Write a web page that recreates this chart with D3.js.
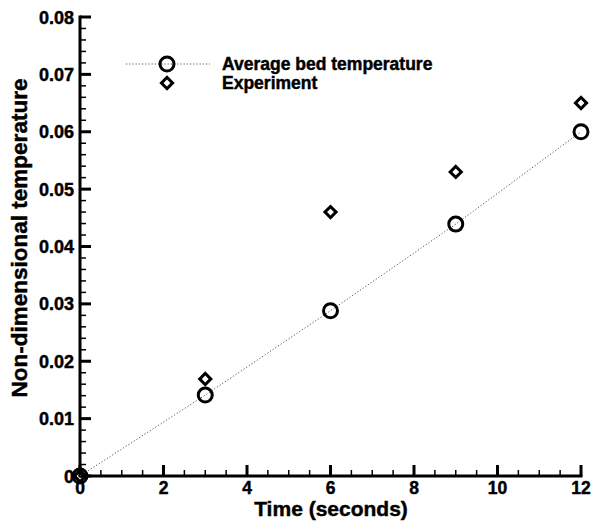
<!DOCTYPE html>
<html><head><meta charset="utf-8">
<script src="https://cdn.jsdelivr.net/npm/d3@7"></script>
<style>body{margin:0;background:#fff}svg{display:block}text{stroke:#000;stroke-width:0.45px}</style>
</head><body>
<script>
const times = [0, 3, 6, 9, 12];
const avgBed = [0, 0.0141, 0.0288, 0.0439, 0.0600];
const expTimes = [0, 3, 6, 9, 12];
const experiment = [0, 0.0169, 0.046, 0.053, 0.065];
const xTicks = [0, 2, 4, 6, 8, 10, 12];
const yTicks = [0, 0.01, 0.02, 0.03, 0.04, 0.05, 0.06, 0.07, 0.08];
const yTickLabels = ["0", "0.01", "0.02", "0.03", "0.04", "0.05", "0.06", "0.07", "0.08"];
const legendNames = ["Average bed temperature", "Experiment"];

const W = 593, H = 521;
const svg = d3.select("body").append("svg").attr("width", W).attr("height", H);
const x = d3.scaleLinear().domain([0, 12]).range([80, 581]);
const y = d3.scaleLinear().domain([0, 0.08]).range([476, 17]);
const font = "'Liberation Sans', Arial, sans-serif";

// minor ticks
const xMinor = d3.range(0, 12.01, 0.5).filter(v => Math.abs(v/2 - Math.round(v/2)) > 1e-6);
const yMinor = d3.range(0, 0.0801, 0.002).filter(v => Math.abs(v/0.01 - Math.round(v/0.01)) > 1e-6);

const g = svg.append("g");
g.selectAll(".xmin").data(xMinor).join("line")
  .attr("x1", d => x(d)).attr("x2", d => x(d)).attr("y1", y(0)).attr("y2", y(0) - 6)
  .attr("stroke", "#000").attr("stroke-width", 1.5);
g.selectAll(".xmaj").data(xTicks).join("line")
  .attr("x1", d => x(d)).attr("x2", d => x(d)).attr("y1", y(0)).attr("y2", y(0) - 11)
  .attr("stroke", "#000").attr("stroke-width", 3);
g.selectAll(".ymin").data(yMinor).join("line")
  .attr("x1", x(0)).attr("x2", x(0) + 6).attr("y1", d => y(d)).attr("y2", d => y(d))
  .attr("stroke", "#000").attr("stroke-width", 1.5);
g.selectAll(".ymaj").data(yTicks).join("line")
  .attr("x1", x(0)).attr("x2", x(0) + 11).attr("y1", d => y(d)).attr("y2", d => y(d))
  .attr("stroke", "#000").attr("stroke-width", 3);
// axis lines
g.append("line").attr("x1", x(0)).attr("x2", x(12) + 1.5).attr("y1", y(0)).attr("y2", y(0))
  .attr("stroke", "#000").attr("stroke-width", 3);
g.append("line").attr("x1", x(0)).attr("x2", x(0)).attr("y1", y(0) + 1.5).attr("y2", y(0.08) - 1.5)
  .attr("stroke", "#000").attr("stroke-width", 3);

// tick labels
g.selectAll(".xl").data(xTicks).join("text")
  .attr("x", d => x(d)).attr("y", y(0) + 18).attr("text-anchor", "middle")
  .attr("font-family", font).attr("font-weight", "bold").attr("font-size", 17.5).text(d => d);
g.selectAll(".yl").data(yTicks).join("text")
  .attr("x", x(0) - 6).attr("y", d => y(d) + 6.5).attr("text-anchor", "end")
  .attr("font-family", font).attr("font-weight", "bold").attr("font-size", 18)
  .text((d, i) => yTickLabels[i]);

// axis titles
svg.append("text").attr("x", 331).attr("y", 516).attr("text-anchor", "middle")
  .attr("font-family", font).attr("font-weight", "bold").attr("font-size", 21).text("Time (seconds)");
svg.append("text").attr("transform", "translate(27,238) rotate(-90)").attr("text-anchor", "middle")
  .attr("font-family", font).attr("font-weight", "bold").attr("font-size", 22.5).text("Non-dimensional temperature");

// line
const line = d3.line().x((d, i) => x(times[i])).y(d => y(d));
svg.append("path").datum(avgBed).attr("d", line).attr("fill", "none")
  .attr("stroke", "#555").attr("stroke-width", 1).attr("stroke-dasharray", "1.2,2");

// circles
svg.selectAll(".c").data(avgBed).join("circle")
  .attr("cx", (d, i) => x(times[i])).attr("cy", d => y(d)).attr("r", 7)
  .attr("fill", "none").attr("stroke", "#000").attr("stroke-width", 3);
// diamonds
const dia = d3.symbol().type(d3.symbolSquare).size(62);
svg.selectAll(".d").data(experiment).join("path")
  .attr("d", dia)
  .attr("transform", (d, i) => `translate(${x(expTimes[i])},${y(d)}) rotate(45)`)
  .attr("fill", "none").attr("stroke", "#000").attr("stroke-width", 3);

// legend
const lg = svg.append("g");
lg.append("line").attr("x1", 126).attr("x2", 210).attr("y1", 64).attr("y2", 64)
  .attr("stroke", "#555").attr("stroke-width", 1).attr("stroke-dasharray", "1.2,2");
lg.append("circle").attr("cx", 167).attr("cy", 64).attr("r", 7)
  .attr("fill", "none").attr("stroke", "#000").attr("stroke-width", 3);
lg.append("path").attr("d", dia).attr("transform", "translate(167,83) rotate(45)")
  .attr("fill", "none").attr("stroke", "#000").attr("stroke-width", 3);
lg.selectAll(".lt").data(legendNames).join("text")
  .attr("x", 222).attr("y", (d, i) => 70 + i * 19)
  .attr("font-family", font).attr("font-weight", "bold").attr("font-size", 17.5).text(d => d);
</script>
</body></html>
